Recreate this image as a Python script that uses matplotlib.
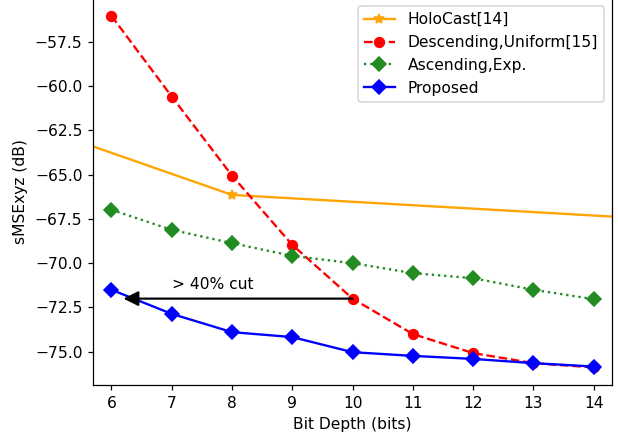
import matplotlib
matplotlib.use('Agg')
import matplotlib.pyplot as plt

# bit depths
bits = [6, 7, 8, 9, 10, 11, 12, 13, 14]

# HoloCast is only sampled sparsely, just one point falls inside the view
holo_bits = [4, 8, 16]
holo = [-61.4, -66.15, -67.7]

# sMSExyz (dB)
descending = [-56.05, -60.6, -65.06, -68.97, -72.0, -74.0, -75.07, -75.64, -75.88]
ascending = [-66.99, -68.12, -68.87, -69.59, -70.0, -70.56, -70.85, -71.5, -72.03]
proposed = [-71.5, -72.86, -73.89, -74.17, -75.02, -75.23, -75.4, -75.64, -75.83]

DPI = 112
ms = 6.25
fig = plt.figure(figsize=(618 / DPI, 437 / DPI), dpi=DPI)
ax = fig.add_axes([0.151, 0.119, 0.839, 0.885])

ax.plot(holo_bits, holo, color='orange', marker='*', markersize=ms, label='HoloCast[14]')
ax.plot(bits, descending, color='red', linestyle='--', marker='o', markersize=ms,
        label='Descending,Uniform[15]')
ax.plot(bits, ascending, color='forestgreen', linestyle=':', marker='D', markersize=ms,
        label='Ascending,Exp.')
ax.plot(bits, proposed, color='blue', marker='D', markersize=ms, label='Proposed')

# arrow from the uniform scheme at 10 bits back to the proposed one at 6 bits
ax.annotate('', xy=(6.2, descending[4]), xytext=(bits[4], descending[4]),
            arrowprops=dict(arrowstyle='-|>', color='black', lw=1.4, mutation_scale=20,
                            shrinkA=0, shrinkB=0))
ax.text(7.0, -71.22, '> 40% cut', fontsize=10, va='center')

ax.set_xlim(5.7, 14.3)
ax.set_xticks(bits)
ax.set_xlabel('Bit Depth (bits)')
ax.set_ylabel('sMSExyz (dB)')
ax.legend(loc='upper right')

fig.savefig('out.png', dpi=DPI)
